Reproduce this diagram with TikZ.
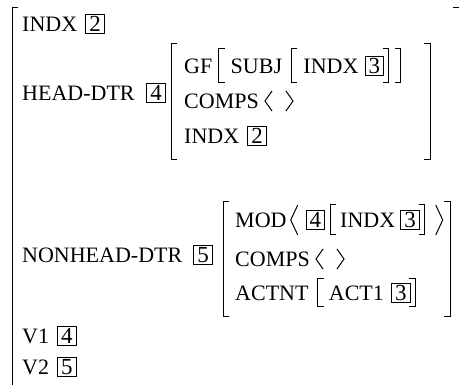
\documentclass[tikz,border=0pt]{standalone}
\usepackage{fontspec}
\setmainfont{Liberation Serif}
\usetikzlibrary{positioning}

\tikzset{
  lbl/.style={inner sep=0pt, anchor=west, text height=14.5pt, text depth=0pt, font=\fontsize{22}{26}\selectfont},
  tag/.style={draw, line width=0.8pt, inner xsep=3.5pt, inner ysep=1.5pt, text height=15.5pt, text depth=0pt, font=\fontsize{23}{27}\selectfont},
  brk/.style={line width=1pt},
}
\newcommand{\brL}[2]{\draw[brk] (#1) ++(6,-#2) -- ++(-6,0) -- ++(0,{2*#2}) -- ++(6,0);}
\newcommand{\brR}[2]{\draw[brk] (#1) ++(-6,-#2) -- ++(6,0) -- ++(0,{2*#2}) -- ++(-6,0);}
\newcommand{\angL}[2]{\draw[brk] (#1) ++(7,-#2) -- ++(-7,#2) -- ++(7,#2);}
\newcommand{\angR}[2]{\draw[brk] (#1) ++(-7,-#2) -- ++(7,#2) -- ++(-7,#2);}

\begin{document}
\begin{tikzpicture}[x=1pt, y=-1pt]
\useasboundingbox (0,0) rectangle (459,385);

    \draw[brk] (18,8) -- (12,8) -- (12,395);
    \draw[brk] (453,8) -- (461,8) -- (461,395);

    \node [lbl] (indxa) at (22,24) {INDX};
    \node [tag, right=8pt of indxa] (t2a) {2};

    \node [lbl] (head) at (22,93) {HEAD-DTR};
    \node [tag] (t4a) at (156,93) {4};
    \draw[brk] (177,44) -- (171,44) -- (171,160) -- (177,160);
    \draw[brk] (424,44) -- (430,44) -- (430,160) -- (424,160);

    \node [lbl] (gf) at (184,66) {GF};
    \node [lbl, right=18pt of gf] (subj) {SUBJ};
    \node [lbl, right=21pt of subj] (indxb) {INDX};
    \node [tag, right=6pt of indxb] (t3a) {3};
    \brL{[xshift=6pt]gf.east}{17}
    \brL{[xshift=9pt]subj.east}{17}
    \brR{[xshift=5pt]t3a.east}{17}
    \brR{[xshift=17pt]t3a.east}{17}

    \node [lbl] (compsa) at (184,101) {COMPS};
    \angL{[xshift=6pt]compsa.east}{10}
    \angR{[xshift=34pt]compsa.east}{10}

    \node [lbl] (indxc) at (184,136) {INDX};
    \node [tag, right=8pt of indxc] (t2b) {2};

    \node [lbl] (nonhead) at (22,255) {NONHEAD-DTR};
    \node [tag] (t5a) at (203,255) {5};
    \draw[brk] (229,202) -- (223,202) -- (223,317) -- (229,317);
    \draw[brk] (444,202) -- (450,202) -- (450,317) -- (444,317);

    \node [lbl] (mod) at (235,220) {MOD};
    \node [tag, right=19pt of mod] (t4b) {4};
    \node [lbl, right=15pt of t4b] (indxd) {INDX};
    \node [tag, right=5pt of indxd] (t3b) {3};
    \angL{[xshift=4pt]mod.east}{15}
    \brL{[xshift=5pt]t4b.east}{15}
    \brR{[xshift=5pt]t3b.east}{15}
    \angR{[xshift=23pt]t3b.east}{15}

    \node [lbl] (compsb) at (235,259) {COMPS};
    \angL{[xshift=6pt]compsb.east}{10}
    \angR{[xshift=34pt]compsb.east}{10}

    \node [lbl] (actnt) at (235,293) {ACTNT};
    \node [lbl, right=20pt of actnt] (act) {ACT1};
    \node [tag, right=7pt of act] (t3c) {3};
    \brL{[xshift=9pt]actnt.east}{14}
    \brR{[xshift=5pt]t3c.east}{14}

    \node [lbl] (va) at (22,336) {V1};
    \node [tag, right=8pt of va] (t4c) {4};
    \node [lbl] (vb) at (22,367) {V2};
    \node [tag, right=8pt of vb] (t5b) {5};

\end{tikzpicture}
\end{document}
